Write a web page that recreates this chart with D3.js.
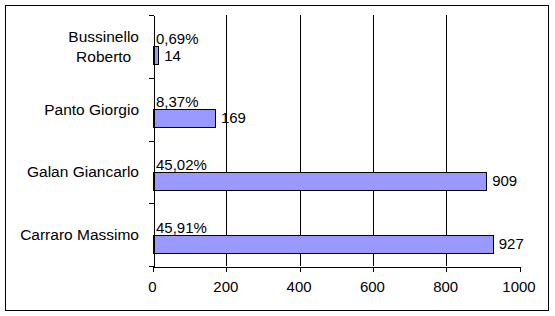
<!DOCTYPE html>
<html>
<head>
<meta charset="utf-8">
<script src="https://cdn.jsdelivr.net/npm/d3@7"></script>
<style>
  body { margin: 0; background: #fff; }
  svg text { font-family: "Liberation Sans", Arial, sans-serif; font-size: 15px; fill: #000; }
  svg text.cat { font-size: 15.5px; }
</style>
</head>
<body>
<svg id="chart" width="555" height="316"></svg>
<script>
// candidates, top to bottom
var categories = [["Bussinello", "Roberto"], ["Panto Giorgio"], ["Galan Giancarlo"], ["Carraro Massimo"]]
var votes = [14, 169, 909, 927]
var percents = ["0,69%", "8,37%", "45,02%", "45,91%"]
var xTicks = [0, 200, 400, 600, 800, 1000]

var svg = d3.select("#chart")
var names = categories.map(function(c){ return c.join(" ") })

// outer frame
svg.append("rect")
  .attr("x", 5.5).attr("y", 5.5)
  .attr("width", 543).attr("height", 305)
  .attr("fill", "#fff").attr("stroke", "#000")

var x = d3.scaleLinear().domain([0, 1000]).range([153, 519.5])
var y = d3.scaleBand().domain(names).range([15, 266])

// gridlines (no line at 0 / 1000)
svg.selectAll("line.grid")
  .data(xTicks.slice(1, -1))
  .enter().append("line")
  .attr("class", "grid")
  .attr("x1", function(d){ return Math.round(x(d)) + 0.5 })
  .attr("x2", function(d){ return Math.round(x(d)) + 0.5 })
  .attr("y1", 15).attr("y2", 266)
  .attr("stroke", "#000")

// bars
var dataset = names.map(function(n, i){ return { name: n, value: votes[i], pct: percents[i], lines: categories[i] } })

svg.selectAll("rect.bar")
  .data(dataset)
  .enter().append("rect")
  .attr("class", "bar")
  .attr("x", Math.round(x(0)) + 0.5)
  .attr("y", function(d){ return Math.round(y(d.name) + y.bandwidth() * 0.5) + 0.5 })
  .attr("width", function(d){ return Math.round(x(d.value) - x(0)) })
  .attr("height", Math.round(y.bandwidth() * 0.28))
  .attr("fill", "#9999ff")
  .attr("stroke", "#000")

// percentage labels above bars
svg.selectAll("text.pct")
  .data(dataset)
  .enter().append("text")
  .attr("class", "pct")
  .attr("x", x(0) + 3)
  .attr("y", function(d){ return y(d.name) + y.bandwidth() * 0.5 - 2 })
  .text(function(d){ return d.pct })

// value labels right of bars
svg.selectAll("text.val")
  .data(dataset)
  .enter().append("text")
  .attr("class", "val")
  .attr("x", function(d){ return x(d.value) + 6 })
  .attr("y", function(d){ return y(d.name) + y.bandwidth() * 0.64 + 5.5 })
  .text(function(d){ return d.value })

// y axis line + boundary ticks
svg.append("g")
  .attr("transform", "translate(" + (Math.round(x(0)) + 0.5) + ",0)")
  .call(d3.axisLeft(y).tickSize(0).tickFormat(""))
  .select(".domain").attr("stroke", "#000")

var bounds = names.map(function(n){ return y(n) }).concat([y.range()[1]])
svg.selectAll("line.ytick")
  .data(bounds)
  .enter().append("line")
  .attr("class", "ytick")
  .attr("x1", Math.round(x(0)) - 4.5).attr("x2", Math.round(x(0)) + 0.5)
  .attr("y1", function(d){ return Math.round(d) + 0.5 })
  .attr("y2", function(d){ return Math.round(d) + 0.5 })
  .attr("stroke", "#000")

// category labels, wrapped names centred on their widest line
dataset.forEach(function(d){
  var g = svg.append("text").attr("class", "cat").attr("text-anchor", "middle")
  var lineH = 19.5
  var cy = y(d.name) + y.bandwidth() / 2
  var top = cy - (d.lines.length - 1) * lineH / 2
  d.lines.forEach(function(l, i){
    g.append("tspan").attr("x", 0).attr("y", top + i * lineH + 5.5).text(l)
  })
  var w = g.node().getBBox().width
  g.selectAll("tspan").attr("x", 139 - w / 2)
})

// x axis
var xAxis = svg.append("g")
  .attr("transform", "translate(0," + (Math.round(y.range()[1]) + 0.5) + ")")
  .call(d3.axisBottom(x).tickValues(xTicks).tickFormat(d3.format("d"))
    .tickSizeInner(5).tickSizeOuter(0).tickPadding(10))
xAxis.attr("font-family", null).attr("font-size", null)
xAxis.select(".domain").attr("stroke", "#000")
xAxis.selectAll(".tick line").attr("stroke", "#000")
xAxis.selectAll(".tick text").attr("dx", -1)
svg.selectAll("line, path, rect").attr("shape-rendering", "crispEdges")
</script>
</body>
</html>
